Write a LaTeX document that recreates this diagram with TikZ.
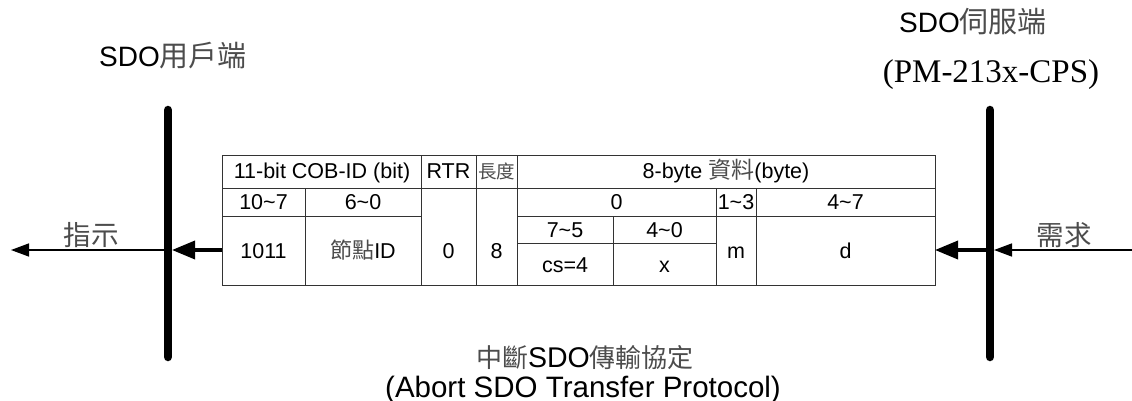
\documentclass[tikz,border=0pt]{standalone}
\usepackage{fontspec}
\setmainfont{Liberation Sans}
\newfontfamily\cjk{Noto Sans CJK TC}
\newfontfamily\tms{Liberation Serif}
\usetikzlibrary{arrows.meta}
\definecolor{cjkc}{gray}{0.3}
\newcommand{\fs}[1]{\fontsize{#1}{#1}\selectfont}
\newcommand{\zh}[2]{{\fs{#1}\cjk\color{cjkc}#2}}
\tikzset{
  grid/.style={draw=black!80, line width=1pt},
  bar/.style={line width=8.5pt, line cap=round},
  cell/.style={anchor=base, inner sep=0pt, font=\fs{21.5}},
  thick arrow/.style={line width=3.5pt, -{Triangle[length=23pt,width=18pt]}},
  thin arrow/.style={line width=1.5pt, -{Triangle[length=18pt,width=13pt]}},
  lbl/.style={inner sep=0pt, anchor=base},
}
\begin{document}
\begin{tikzpicture}[x=1pt,y=-1pt]
\useasboundingbox (0,0) rectangle (1132,401);
% bars
\draw[bar] (168,110) -- (168,357);
\draw[bar] (990,110) -- (990,357);
% table grid
\draw[grid] (222,155) rectangle (935,285);
\draw[grid] (222,188) -- (935,188);
\draw[grid] (222,216) -- (421,216);
\draw[grid] (517,216) -- (935,216);
\draw[grid] (517,243) -- (716,243);
\draw[grid] (305,188) -- (305,285);
\draw[grid] (421,155) -- (421,285);
\draw[grid] (476,155) -- (476,285);
\draw[grid] (517,155) -- (517,285);
\draw[grid] (613,216) -- (613,285);
\draw[grid] (716,188) -- (716,285);
\draw[grid] (756,188) -- (756,285);
% table texts
\node[cell] (h1) at (322,178) {11-bit COB-ID (bit)};
\node[cell] (h2) at (448.5,178) {RTR};
\node[cell] (h3) at (496.5,178) {\zh{18.5}{長度}};
\node[cell] (h4) at (726,178) {8-byte \zh{23}{資料}(byte)};
\node[cell] (r1) at (263.5,209) {10\char`~7};
\node[cell] (r2) at (363,209) {6\char`~0};
\node[cell] (r3) at (616.5,209) {0};
\node[cell] (r4) at (736,209) {1\char`~3};
\node[cell] (r5) at (845.5,209) {4\char`~7};
\node[cell] (c1) at (263.5,258) {1011};
\node[cell] (c2) at (363,258) {\zh{22}{節點}ID};
\node[cell] (c3) at (448.5,258) {0};
\node[cell] (c4) at (496.5,258) {8};
\node[cell] (s1) at (565,237) {7\char`~5};
\node[cell] (s2) at (664.5,237) {4\char`~0};
\node[cell] (s3) at (565,272) {cs=4};
\node[cell] (s4) at (664.5,272) {x};
\node[cell] (c5) at (736,258) {m};
\node[cell] (c6) at (845.5,258) {d};
% connector end points
\coordinate (tabL) at (222,250);
\coordinate (tabR) at (935,250);
\coordinate (barLr) at (172,250);
\coordinate (barLl) at (164,250);
\coordinate (barRl) at (986,250);
\coordinate (barRr) at (994,250);
\coordinate (farL) at (11,250);
\coordinate (farR) at (1132,250);
\draw[thick arrow] (tabL) -- (barLr);
\draw[thin arrow] (barLl) -- (farL);
\draw[thin arrow] (farR) -- (barRr);
\draw[thick arrow] (barRl) -- (tabR);
% labels
\node[lbl] (ind) at (91,245) {\zh{27.5}{指示}};
\node[lbl] (req) at (1064,245) {\zh{27.5}{需求}};
\node[lbl] (client) at (173,67) {\fs{28}SDO\zh{29}{用戶端}};
\node[lbl] (server) at (973,33) {\fs{28}SDO\zh{29}{伺服端}};
\node[lbl] (pm) at (991,83) {\fs{33}\tms (PM-213x-CPS)};
\node[lbl] (t1) at (585,367) {\fs{28.5}\zh{26}{中斷}SDO\zh{26}{傳輸協定}};
\node[lbl] (t2) at (583,397) {\fs{29.5}(Abort SDO Transfer Protocol)};
\end{tikzpicture}
\end{document}
